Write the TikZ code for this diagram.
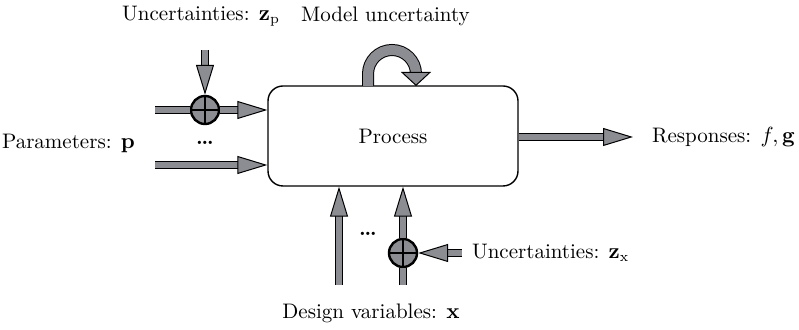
\documentclass[tikz,border=0pt]{standalone}
\usepackage{xcolor}
\usepackage{tikz}
\usetikzlibrary{arrows.meta, positioning}

\definecolor{shaftgray}{RGB}{140,141,146}

\begin{document}
\begin{tikzpicture}[x=0.5pt, y=-0.5pt, font=\fontsize{10.5}{12}\selectfont,
    shaft/.style={line width=0.5pt, double=shaftgray, double distance=3pt},
    fat/.style={shaft, -{Triangle[length=15pt, width=9pt, fill=shaftgray, line width=0.5pt]}},
    sumnode/.style={circle, draw, line width=1.2pt, fill=shaftgray, minimum size=14pt, inner sep=0pt}]
    \useasboundingbox (0,0) rectangle (799,330);

    \node[rectangle, draw, line width=0.7pt, rounded corners=7.5pt, minimum width=125pt, minimum height=50pt] (process) at (393,136) {Process};
    \node[sumnode] (sump) at (205,110) {};
    \node[sumnode] (sumx) at (403,253) {};

    % free ends
    \coordinate (pin) at (155,110);
    \coordinate (pin2) at (155,165);
    \coordinate (zpin) at (205,50);
    \coordinate (xin) at (339,285);
    \coordinate (xin2) at (403,285);
    \coordinate (zxin) at (462,253);
    \coordinate (out) at (633,137);
    \coordinate (loopa) at (368,86);
    \coordinate (loopb) at (416,86);

    % labels
    \node[anchor=east] (params) at (142,143) {Parameters: $\mathbf{p}$};
    \node (pdots) at (205,143) {\textbf{\dots}};
    \node[anchor=east] (zplabel) at (287,16) {Uncertainties: $\mathbf{z}_\mathrm{p}$};
    \node[anchor=west] (modellabel) at (294,16) {Model uncertainty};
    \node[anchor=west] (resp) at (645,137) {Responses: $f, \mathbf{g}$};
    \node (xdots) at (368,234) {\textbf{\dots}};
    \node[anchor=west] (zxlabel) at (465,253) {Uncertainties: $\mathbf{z}_\mathrm{x}$};
    \node (design) at (371,313) {Design variables: $\mathbf{x}$};

    % crosses
    \draw[line width=1.2pt] (sump.north) -- (sump.south) (sump.west) -- (sump.east);
    \draw[line width=1.2pt] (sumx.north) -- (sumx.south) (sumx.west) -- (sumx.east);

    \draw[shaft] (pin) -- (sump.west);
    \draw[fat] (sump.east) -- (process.west |- sump);
    \draw[fat] (zpin) -- (sump.north);
    \draw[fat] (pin2) -- (process.west |- pin2);
    \draw[fat] (process.east |- out) -- (out);
    \draw[fat] (xin) -- (process.south -| xin);
    \draw[shaft] (xin2) -- (sumx.south);
    \draw[fat] (sumx.north) -- (process.south -| sumx);
    \draw[fat] (zxin) -- (sumx.east);
    \draw[line width=0.5pt, double=shaftgray, double distance=5pt,
        -{Triangle[length=7pt, width=15pt, fill=shaftgray, line width=0.5pt]}]
        (loopa) -- ++(0,-12) arc[start angle=180, end angle=0, radius=12pt] -- (loopb);
\end{tikzpicture}
\end{document}
